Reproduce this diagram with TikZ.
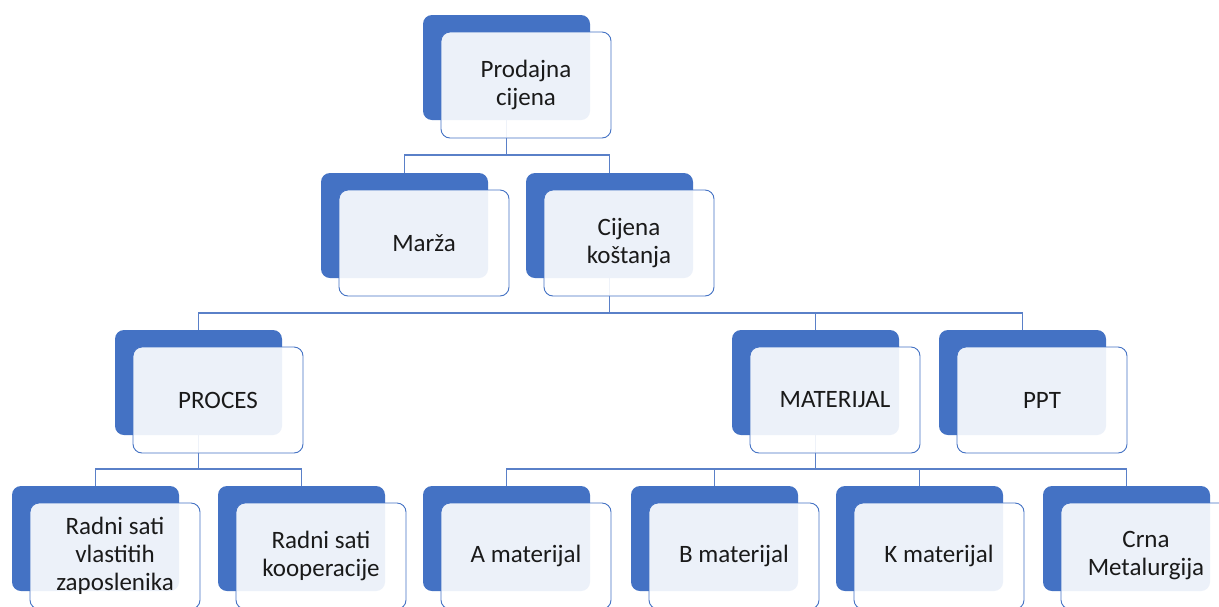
\documentclass[tikz,border=0pt]{standalone}
\usepackage{fontspec}
\setmainfont{Carlito}
\usetikzlibrary{backgrounds}
\definecolor{accblue}{HTML}{4472C4}
\definecolor{linkblue}{HTML}{5A80C8}
\definecolor{txt}{HTML}{1A1A1A}
\tikzset{
  bluebox/.style={fill=accblue, draw=none, rounded corners=9pt, minimum width=167pt, minimum height=105pt, inner sep=0pt, outer sep=0pt, anchor=north west},
  fgbox/.style={fill=white, fill opacity=0.9, text opacity=1, draw=accblue, line width=0.9pt, rounded corners=9pt, minimum width=170pt, minimum height=106pt, inner sep=0pt, outer sep=0pt, anchor=north west, align=center, text=txt, font=\fontsize{25}{28}\selectfont},
  link/.style={draw=linkblue, line width=1.2pt}
}
\newcommand\orgitem[4]{%
  \node[bluebox] (b#1) at (#2,#3) {};
  \node[fgbox, xshift=18pt, yshift=-17pt] (f#1) at (#2,#3) {#4};
}
\begin{document}
\begin{tikzpicture}[x=1pt,y=-1pt]
\useasboundingbox (0,0) rectangle (1219,606);
\clip (0,0) rectangle (1219,606);
\coordinate (busA) at (0,155);
\coordinate (busB) at (0,313);
\coordinate (busC) at (0,469);
% boxes
\orgitem{P}{423}{15}{Prodajna\\cijena}
\orgitem{M}{321}{173}{Marža}
\orgitem{C}{526}{173}{Cijena\\koštanja}
\orgitem{PR}{115}{330}{PROCES}
\orgitem{MA}{732}{330}{MATERIJAL}
\orgitem{PP}{939}{330}{PPT}
\orgitem{R1}{12}{486}{Radni sati\\vlastitih\\zaposlenika}
\orgitem{R2}{218}{486}{Radni sati\\kooperacije}
\orgitem{A}{423}{486}{A materijal}
\orgitem{B}{631}{486}{B materijal}
\orgitem{K}{836}{486}{K materijal}
\orgitem{CM}{1043}{486}{Crna\\Metalurgija}
% connectors behind
\begin{scope}[on background layer]
\fill[white] (0,0) rectangle (1219,606);
\draw[link] (bP.south) -- (bP.south |- busA) -| (bM.north);
\draw[link] (bP.south |- busA) -| (bC.north);
\draw[link] (bC.south) -- (bC.south |- busB) -| (bPR.north);
\draw[link] (bC.south |- busB) -| (bMA.north);
\draw[link] (bC.south |- busB) -| (bPP.north);
\draw[link] (bPR.south) -- (bPR.south |- busC) -| (bR1.north);
\draw[link] (bPR.south |- busC) -| (bR2.north);
\draw[link] (bMA.south) -- (bMA.south |- busC) -| (bA.north);
\draw[link] (bMA.south |- busC) -| (bB.north);
\draw[link] (bMA.south |- busC) -| (bK.north);
\draw[link] (bMA.south |- busC) -| (bCM.north);
\end{scope}
\end{tikzpicture}
\end{document}
